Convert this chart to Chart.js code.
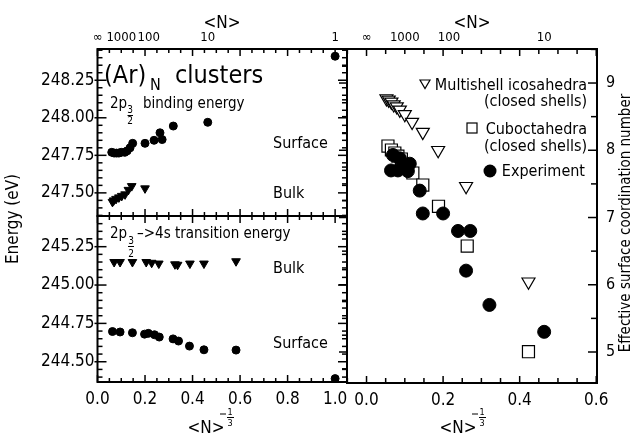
<!DOCTYPE html>
<html>
<head>
<meta charset="utf-8">
<script src="https://cdn.jsdelivr.net/npm/chart.js@4.4.1/dist/chart.umd.min.js"></script>
<style>
  html, body { margin: 0; padding: 0; background: #fff; }
  #wrap { position: relative; width: 633px; height: 435px; background: #fff; }
  #wrap canvas { position: absolute; left: 0; top: 0; }
</style>
</head>
<body>
<div id="wrap">
  <canvas id="bindChart" width="633" height="435"></canvas>
  <canvas id="transChart" width="633" height="435"></canvas>
  <canvas id="coordChart" width="633" height="435"></canvas>
</div>
<script>
// (Ar)N clusters - 2p binding / transition energies and surface coordination
const FONT = '"DejaVu Sans Condensed", "Liberation Sans Narrow", "DejaVu Sans", sans-serif';

// upper left: 2p3/2 binding energy (eV) vs <N>^-1/3
const bindSurfX = [0.060, 0.070, 0.080, 0.090, 0.100, 0.115, 0.125, 0.137, 0.148, 0.200, 0.238, 0.263, 0.272, 0.319, 0.464, 1.000];
const bindSurfY = [247.77, 247.765, 247.765, 247.765, 247.77, 247.77, 247.78, 247.80, 247.83, 247.83, 247.85, 247.90, 247.855, 247.945, 247.97, 248.41];
const bindBulkX = [0.063, 0.068, 0.078, 0.090, 0.102, 0.116, 0.130, 0.144, 0.200];
const bindBulkY = [247.44, 247.45, 247.46, 247.47, 247.48, 247.49, 247.52, 247.545, 247.53];

// lower left: 2p3/2 -> 4s transition energy (eV)
const transBulkX = [0.070, 0.095, 0.147, 0.205, 0.228, 0.258, 0.326, 0.337, 0.389, 0.448, 0.583];
const transBulkY = [245.15, 245.15, 245.15, 245.15, 245.145, 245.14, 245.135, 245.132, 245.14, 245.14, 245.155];
const transSurfX = [0.063, 0.095, 0.147, 0.198, 0.214, 0.240, 0.260, 0.318, 0.341, 0.387, 0.448, 0.583, 1.000];
const transSurfY = [244.697, 244.694, 244.689, 244.68, 244.685, 244.676, 244.661, 244.649, 244.635, 244.602, 244.578, 244.576, 244.39];

// right: effective surface coordination number
const icoX = [0.052, 0.058, 0.065, 0.071, 0.079, 0.087, 0.100, 0.119, 0.147, 0.187, 0.260, 0.423];
const icoY = [8.77, 8.75, 8.72, 8.68, 8.65, 8.60, 8.535, 8.42, 8.27, 8.00, 7.465, 6.045];
const cuboX = [0.056, 0.065, 0.074, 0.082, 0.091, 0.121, 0.147, 0.188, 0.263, 0.423];
const cuboY = [8.063, 8.004, 7.959, 7.914, 7.87, 7.662, 7.483, 7.167, 6.576, 5.004];
const expX = [0.064, 0.082, 0.108, 0.069, 0.087, 0.097, 0.113, 0.139, 0.147, 0.200, 0.239, 0.271, 0.260, 0.321, 0.464];
const expY = [7.70, 7.70, 7.69, 7.93, 7.88, 7.78, 7.80, 7.40, 7.06, 7.06, 6.80, 6.80, 6.21, 5.70, 5.30];

// tick labels
const topTickPos = [0, 0.1, 0.2154, 0.4642, 1.0];
const topTickText = ['∞', '1000', '100', '10', '1'];
const bindTicks = [247.50, 247.75, 248.00, 248.25];
const transTicks = [244.50, 244.75, 245.00, 245.25];
const leftXTicks = [0, 0.2, 0.4, 0.6, 0.8, 1.0];
const coordXTicks = [0, 0.2, 0.4, 0.6];
const coordYTicks = [5, 6, 7, 8, 9];

const pts = (xs, ys) => xs.map((x, i) => ({ x, y: ys[i] }));
const steps = (a, b, d) => { const r = []; for (let i = 0; a + i * d <= b + 1e-9; i++) r.push(+(a + i * d).toFixed(4)); return r; };
const isMult = (v, m) => Math.abs(v / m - Math.round(v / m)) < 1e-6;

// frame + inward tick marks
function frame(edges) {
  return {
    id: 'frame',
    afterDraw(chart) {
      const { ctx, chartArea: a } = chart;
      ctx.save();
      ctx.strokeStyle = '#000';
      ctx.lineWidth = 1.5;
      edges.forEach(e => {
        const s = chart.scales[e.axis];
        e.values.forEach(v => {
          if (v < s.min - 1e-9 || v > s.max + 1e-9) return;
          const p = s.getPixelForValue(v);
          const major = isMult(v, e.majorStep);
          const len = major ? e.len[0] : e.len[1];
          const out = major ? (e.out || 0) : 0;
          ctx.beginPath();
          if (e.side === 'bottom') { ctx.moveTo(p, a.bottom + out); ctx.lineTo(p, a.bottom - len); }
          if (e.side === 'top') { ctx.moveTo(p, a.top - out); ctx.lineTo(p, a.top + len); }
          if (e.side === 'left') { ctx.moveTo(a.left - out, p); ctx.lineTo(a.left + len, p); }
          if (e.side === 'right') { ctx.moveTo(a.right + out, p); ctx.lineTo(a.right - len, p); }
          ctx.stroke();
        });
      });
      ctx.lineWidth = 2;
      ctx.strokeRect(a.left, a.top, a.right - a.left, a.bottom - a.top);
      ctx.restore();
    }
  };
}

// free text, fraction bars and legend symbols
function notes(items) {
  return {
    id: 'notes',
    afterDraw(chart) {
      const ctx = chart.ctx;
      ctx.save();
      ctx.fillStyle = '#000';
      ctx.strokeStyle = '#000';
      items.forEach(t => {
        ctx.save();
        if (t.bar) {
          ctx.lineWidth = 1;
          ctx.beginPath(); ctx.moveTo(t.bar[0], t.bar[2]); ctx.lineTo(t.bar[1], t.bar[2]); ctx.stroke();
        } else if (t.shape === 'tri') {
          ctx.lineWidth = 1.2;
          ctx.beginPath(); ctx.moveTo(t.x - t.s, t.y - t.s * 0.8); ctx.lineTo(t.x + t.s, t.y - t.s * 0.8); ctx.lineTo(t.x, t.y + t.s * 0.9); ctx.closePath(); ctx.stroke();
        } else if (t.shape === 'rect') {
          ctx.lineWidth = 1.2;
          ctx.strokeRect(t.x - t.s, t.y - t.s, 2 * t.s, 2 * t.s);
        } else if (t.shape === 'dot') {
          ctx.beginPath(); ctx.arc(t.x, t.y, t.s, 0, Math.PI * 2); ctx.fill();
        } else {
          ctx.font = `${t.size}px ${FONT}`;
          ctx.textAlign = t.align || 'left';
          ctx.textBaseline = t.base || 'alphabetic';
          ctx.translate(t.x, t.y);
          if (t.rot) ctx.rotate(t.rot);
          ctx.fillText(t.text, 0, 0);
        }
        ctx.restore();
      });
      ctx.restore();
    }
  };
}

function axis(position, min, max, values, fmt, fontSize, pad, boxSize) {
  const horiz = position === 'top' || position === 'bottom';
  return {
    type: 'linear', axis: horiz ? 'x' : 'y', position, min, max,
    grid: { display: false, drawTicks: false }, border: { display: false },
    afterBuildTicks: s => { if (values.length) s.ticks = values.map(v => ({ value: v })); },
    afterFit: s => { if (horiz) s.height = boxSize; else s.width = boxSize; },
    ticks: {
      display: values.length > 0, autoSkip: false, maxRotation: 0, minRotation: 0, padding: pad, color: '#000',
      font: { family: FONT, size: fontSize },
      callback: (v, i) => fmt(v, i),
    },
  };
}

const common = {
  responsive: false, animation: false, devicePixelRatio: 1, events: [],
  plugins: { legend: { display: false }, tooltip: { enabled: false } },
};
const filled = { backgroundColor: '#000', borderColor: '#000', borderWidth: 1 };
const open = { backgroundColor: '#fff', borderColor: '#000', borderWidth: 1.2 };

const leftMinor = steps(0, 1.05, 0.05);

new Chart(document.getElementById('bindChart'), {
  type: 'scatter',
  data: { datasets: [
    { data: pts(bindSurfX, bindSurfY), pointStyle: 'circle', pointRadius: 4, ...filled },
    { data: pts(bindBulkX, bindBulkY), pointStyle: 'triangle', pointRotation: 180, pointRadius: 5, ...filled },
  ] },
  options: {
    ...common,
    layout: { padding: { left: 0, top: 0, right: 286, bottom: 219 } },
    scales: {
      x: axis('bottom', 0, 1.05, [], v => '', 12, 0, 0),
      x2: axis('top', 0, 1.05, topTickPos, (v, i) => topTickText[i], 13, 4, 49),
      y: axis('left', 247.346, 248.458, bindTicks, v => v.toFixed(2), 17, 3, 97.5),
    },
  },
  plugins: [
    frame([
      { axis: 'x', side: 'bottom', values: leftMinor, majorStep: 0.2, len: [7, 4] },
      { axis: 'x', side: 'top', values: leftMinor, majorStep: 0.2, len: [7, 4] },
      { axis: 'y', side: 'left', values: steps(247.35, 248.45, 0.05), majorStep: 0.25, len: [9, 5], out: 3 },
      { axis: 'y', side: 'right', values: steps(247.35, 248.45, 0.05), majorStep: 0.25, len: [9, 5] },
    ]),
    notes([
      { text: '(Ar)', x: 104, y: 83, size: 25 },
      { text: 'N', x: 150, y: 90, size: 16 },
      { text: 'clusters', x: 175, y: 83, size: 25 },
      { text: '2p', x: 110, y: 108, size: 15 },
      { text: '3', x: 130, y: 113, size: 10, align: 'center' },
      { bar: [127.5, 133, 115.5] },
      { text: '2', x: 130, y: 124, size: 10, align: 'center' },
      { text: 'binding energy', x: 143, y: 108, size: 15 },
      { text: 'Surface', x: 273, y: 148, size: 16 },
      { text: 'Bulk', x: 273, y: 198, size: 16 },
      { text: '<N>', x: 222, y: 28, size: 17, align: 'center' },
      { text: 'Energy (eV)', x: 14, y: 219, size: 17, align: 'center', base: 'middle', rot: -Math.PI / 2 },
    ]),
  ],
});

new Chart(document.getElementById('transChart'), {
  type: 'scatter',
  data: { datasets: [
    { data: pts(transBulkX, transBulkY), pointStyle: 'triangle', pointRotation: 180, pointRadius: 5, ...filled },
    { data: pts(transSurfX, transSurfY), pointStyle: 'circle', pointRadius: 4, ...filled },
  ] },
  options: {
    ...common,
    layout: { padding: { left: 0, top: 216, right: 286, bottom: 0 } },
    scales: {
      x: axis('bottom', 0, 1.05, leftXTicks, v => v.toFixed(1), 17, 7, 53),
      y: axis('left', 244.368, 245.45, transTicks, v => v.toFixed(2), 17, 3, 97.5),
    },
  },
  plugins: [
    frame([
      { axis: 'x', side: 'bottom', values: leftMinor, majorStep: 0.2, len: [7, 4] },
      { axis: 'x', side: 'top', values: leftMinor, majorStep: 0.2, len: [7, 4] },
      { axis: 'y', side: 'left', values: steps(244.40, 245.45, 0.05), majorStep: 0.25, len: [9, 5], out: 3 },
      { axis: 'y', side: 'right', values: steps(244.40, 245.45, 0.05), majorStep: 0.25, len: [9, 5] },
    ]),
    notes([
      { text: '2p', x: 110, y: 238, size: 15 },
      { text: '3', x: 131, y: 244, size: 10, align: 'center' },
      { bar: [128, 134, 246.5] },
      { text: '2', x: 131, y: 257, size: 10, align: 'center' },
      { text: '–>4s transition energy', x: 137, y: 238, size: 15 },
      { text: 'Bulk', x: 273, y: 273, size: 16 },
      { text: 'Surface', x: 273, y: 348, size: 16 },
      { text: '<N>', x: 206, y: 433, size: 17, align: 'center' },
      { bar: [220, 226, 414] },
      { text: '1', x: 230, y: 415, size: 9, align: 'center' },
      { bar: [227, 234, 417.5] },
      { text: '3', x: 230, y: 426, size: 9, align: 'center' },
    ]),
  ],
});

const coordMinor = steps(-0.05, 0.6, 0.05);

new Chart(document.getElementById('coordChart'), {
  type: 'scatter',
  data: { datasets: [
    { data: pts(icoX, icoY), pointStyle: 'triangle', pointRotation: 180, pointRadius: 7.5, order: 3, ...open },
    { data: pts(cuboX, cuboY), pointStyle: 'rect', pointRadius: 8.5, order: 2, ...open },
    { data: pts(expX, expY), pointStyle: 'circle', pointRadius: 6.5, order: 1, ...filled },
  ] },
  options: {
    ...common,
    layout: { padding: { left: 347, top: 0, right: 0, bottom: 0 } },
    scales: {
      x: axis('bottom', -0.051, 0.602, coordXTicks, v => v.toFixed(1), 17, 7, 52),
      x2: axis('top', -0.051, 0.602, topTickPos.slice(0, 4), (v, i) => topTickText[i], 13, 4, 49),
      y: axis('right', 4.539, 9.506, coordYTicks, v => String(v), 16, 9, 36),
    },
  },
  plugins: [
    frame([
      { axis: 'x', side: 'bottom', values: coordMinor, majorStep: 0.2, len: [7, 5] },
      { axis: 'x', side: 'top', values: coordMinor, majorStep: 0.2, len: [7, 5] },
      { axis: 'y', side: 'right', values: steps(5, 9.5, 0.5), majorStep: 1, len: [9, 6] },
      { axis: 'y', side: 'left', values: steps(4.75, 9.5, 0.25), majorStep: 1, len: [-8, -5] },
    ]),
    notes([
      { text: '<N>', x: 472, y: 28, size: 17, align: 'center' },
      { shape: 'tri', x: 425, y: 84, s: 5 },
      { text: 'Multishell icosahedra', x: 587, y: 90, size: 16, align: 'right' },
      { text: '(closed shells)', x: 587, y: 106, size: 16, align: 'right' },
      { shape: 'rect', x: 472, y: 128, s: 5 },
      { text: 'Cuboctahedra', x: 587, y: 134, size: 16, align: 'right' },
      { text: '(closed shells)', x: 587, y: 151, size: 16, align: 'right' },
      { shape: 'dot', x: 490, y: 171, s: 6.5 },
      { text: 'Experiment', x: 585, y: 176, size: 16, align: 'right' },
      { text: '<N>', x: 458, y: 433, size: 17, align: 'center' },
      { bar: [472, 478, 414] },
      { text: '1', x: 482, y: 415, size: 9, align: 'center' },
      { bar: [479, 486, 417.5] },
      { text: '3', x: 482, y: 426, size: 9, align: 'center' },
      { text: 'Effective surface coordination number', x: 626, y: 223, size: 15, align: 'center', base: 'middle', rot: -Math.PI / 2 },
    ]),
  ],
});
</script>
</body>
</html>
